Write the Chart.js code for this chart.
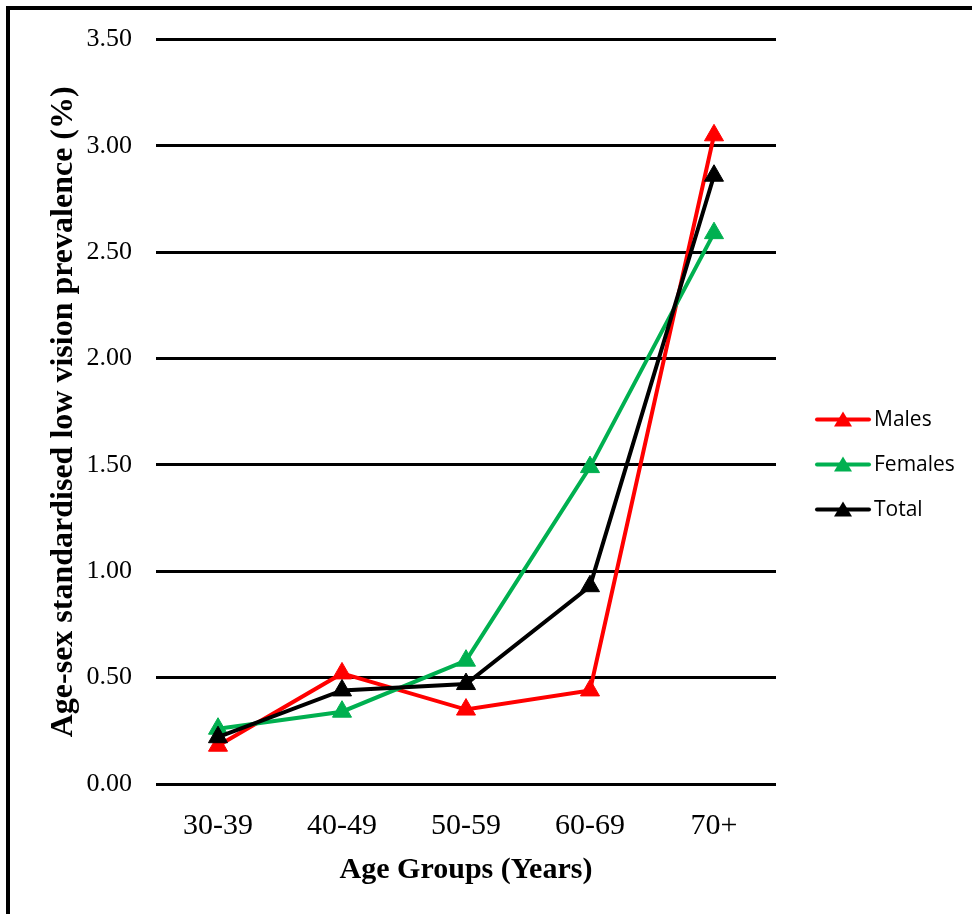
<!DOCTYPE html>
<html>
<head>
<meta charset="utf-8">
<script src="https://cdn.jsdelivr.net/npm/chart.js@4.4.1/dist/chart.umd.min.js"></script>
<style>
  html, body { margin: 0; padding: 0; background: #fff; overflow: hidden; }
  #frame {
    position: absolute; left: 6px; top: 6px; width: 1000px; height: 1000px;
    border-left: 4px solid #000; border-top: 4px solid #000;
  }
  #myChart { position: absolute; left: 0; top: 0; }
</style>
</head>
<body>
<div id="frame"></div>
<canvas id="myChart" width="972" height="914"></canvas>
<script>
  // data
  const ageGroups = ['30-39', '40-49', '50-59', '60-69', '70+'];
  const males = [0.18, 0.52, 0.35, 0.44, 3.05];
  const females = [0.26, 0.34, 0.58, 1.49, 2.59];
  const total = [0.22, 0.44, 0.47, 0.93, 2.86];
  const seriesNames = ['Males', 'Females', 'Total'];
  const seriesColors = ['#FF0000', '#00B050', '#000000'];

  const serif = "'Liberation Serif', 'Times New Roman', serif";

  function lineSet(i, values, order) {
    return {
      label: seriesNames[i],
      data: values,
      borderColor: seriesColors[i],
      backgroundColor: seriesColors[i],
      borderWidth: 4,
      pointStyle: 'triangle',
      pointRadius: 11,
      pointHoverRadius: 11,
      pointBorderWidth: 1,
      tension: 0,
      order: order
    };
  }

  // legend on the right: short line with a triangle in the middle, then the name
  const sideLegend = {
    id: 'sideLegend',
    afterDraw(chart) {
      const ctx = chart.ctx;
      const x0 = chart.chartArea.right + 41;
      const y0 = chart.chartArea.top + 380;
      ctx.save();
      chart.data.datasets.forEach(function(ds, i) {
        const y = y0 + i * 45;
        ctx.strokeStyle = ds.borderColor;
        ctx.fillStyle = ds.borderColor;
        ctx.lineWidth = 4;
        ctx.lineCap = 'round';
        ctx.beginPath();
        ctx.moveTo(x0, y);
        ctx.lineTo(x0 + 52, y);
        ctx.stroke();
        ctx.beginPath();
        ctx.moveTo(x0 + 26, y - 8);
        ctx.lineTo(x0 + 35, y + 7);
        ctx.lineTo(x0 + 17, y + 7);
        ctx.closePath();
        ctx.fill();
        ctx.fillStyle = '#000';
        ctx.font = "21px 'Open Sans', sans-serif";
        ctx.textBaseline = 'middle';
        ctx.fillText(ds.label, x0 + 57, y);
      });
      ctx.restore();
    }
  };

  const config = {
    type: 'line',
    data: {
      labels: ageGroups,
      datasets: [
        lineSet(0, males, 2),
        lineSet(1, females, 1),
        lineSet(2, total, 0)
      ]
    },
    options: {
      responsive: false,
      animation: false,
      layout: { padding: { top: 37, right: 196, left: 0, bottom: 0 } },
      plugins: {
        legend: { display: false },
        tooltip: { enabled: false }
      },
      scales: {
        x: {
          offset: true,
          grid: { display: false, drawTicks: false },
          border: { display: false },
          ticks: { color: '#000', padding: 24, font: { family: serif, size: 30, weight: 'normal' } },
          title: {
            display: true,
            text: 'Age Groups (Years)',
            color: '#000',
            padding: { top: 26, bottom: 26 },
            font: { family: serif, size: 30, weight: 'bold' }
          },
          afterFit(scale) { scale.height = 130; }
        },
        y: {
          min: 0,
          max: 3.5,
          grid: { color: '#000', lineWidth: 3, drawTicks: false },
          border: { display: false },
          ticks: {
            stepSize: 0.5,
            color: '#000',
            padding: 24,
            font: { family: serif, size: 26, weight: 'normal' },
            callback: function(v) { return Number(v).toFixed(2); }
          },
          title: {
            display: true,
            text: 'Age-sex standardised low vision prevalence (%)',
            color: '#000',
            padding: { top: 45, bottom: 0 },
            font: { family: serif, size: 32, weight: 'bold' }
          },
          afterFit(scale) { scale.width = 156; }
        }
      }
    },
    plugins: [sideLegend]
  };

  const myChart = new Chart(document.getElementById('myChart'), config);
</script>
</body>
</html>
